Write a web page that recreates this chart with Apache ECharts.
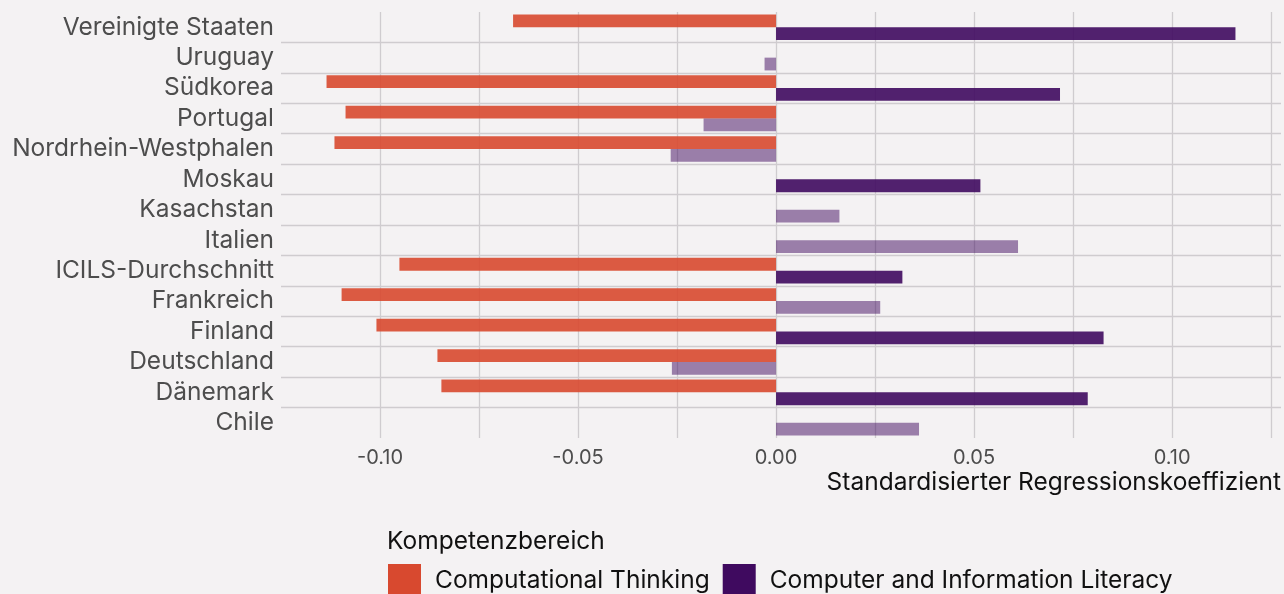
<!DOCTYPE html>
<html>
<head>
<meta charset="utf-8">
<script src="https://cdn.jsdelivr.net/npm/echarts@6/dist/echarts.min.js"></script>
<style>
html,body{margin:0;padding:0;background:#F4F2F3;}
#c{width:1284px;height:594px;}
</style>
</head>
<body>
<div id="c"></div>
<script>
// Categories, top to bottom
const categories = ["Vereinigte Staaten","Uruguay","Südkorea","Portugal","Nordrhein-Westphalen","Moskau","Kasachstan","Italien","ICILS-Durchschnitt","Frankreich","Finland","Deutschland","Dänemark","Chile"];
// Computational Thinking coefficients (null = not participating)
const ctValues = [-0.0664, null, -0.1135, -0.1087, -0.1115, null, null, null, -0.0951, -0.1097, -0.1009, -0.0855, -0.0845, null];
// Computer and Information Literacy coefficients
const cilValues = [0.1160, -0.0029, 0.0717, -0.0183, -0.0266, 0.0516, 0.0160, 0.0611, 0.0319, 0.0263, 0.0827, -0.0263, 0.0787, 0.0361];
// CIL significance (true = significant, drawn dark)
const cilSignificant = [true, false, true, false, false, true, false, false, true, false, true, false, true, false];
const seriesNames = ["Computational Thinking", "Computer and Information Literacy"];
const legendTitle = "Kompetenzbereich";
const xAxisTitle = "Standardisierter Regressionskoeffizient";

const FONT = "Inter, 'Noto Sans', sans-serif";
const CT_COLOR = "#D8492F";
const CIL_COLOR = "#3F0A5F";

const chart = echarts.init(document.getElementById('c'), null, {renderer: 'canvas'});

const option = {
  backgroundColor: "#F4F2F3",
  animation: false,
  grid: {left: 281, right: 2, top: 12, height: 426, containLabel: false},
  xAxis: {
    type: 'value',
    min: -0.125,
    max: 0.1275,
    interval: 0.025,
    axisLine: {show: false},
    axisTick: {show: false},
    axisLabel: {
      margin: 10,
      color: '#4D4D4D',
      fontFamily: FONT,
      fontSize: 20,
      formatter: function (v) {
        const k = Math.round(v / 0.05);
        if (Math.abs(k * 0.05 - v) < 1e-9) return v.toFixed(2);
        return '';
      }
    },
    splitLine: {show: true, showMinLine: false, showMaxLine: false, lineStyle: {color: '#CFCCCF', width: 1.3}}
  },
  yAxis: {
    type: 'category',
    data: categories,
    inverse: true,
    axisLine: {show: false},
    axisTick: {show: false, interval: 0},
    axisLabel: {interval: 0, margin: 7, color: '#4D4D4D', fontFamily: FONT, fontSize: 24.5, padding: [4, 0, 0, 0]},
    splitLine: {show: true, interval: 0, showMinLine: false, showMaxLine: false, lineStyle: {color: '#CFCCCF', width: 1.3}}
  },
  legend: {
    left: 388,
    top: 564,
    padding: 0,
    itemWidth: 33,
    itemHeight: 34,
    itemGap: 13,
    icon: 'rect',
    textStyle: {color: '#111', fontFamily: FONT, fontSize: 24.5, padding: [0, 0, 0, 9]},
    itemStyle: {opacity: 1},
    data: [
      {name: seriesNames[0], itemStyle: {color: CT_COLOR, opacity: 1}},
      {name: seriesNames[1], itemStyle: {color: CIL_COLOR, opacity: 1}}
    ]
  },
  graphic: [
    {type: 'text', left: 387, top: 529, style: {text: legendTitle, fill: '#111', font: '24.5px ' + FONT}},
    {type: 'text', right: 3, top: 470, style: {text: xAxisTitle, fill: '#111', font: '24.5px ' + FONT}}
  ],
  series: [
    {
      name: seriesNames[0],
      type: 'bar',
      data: ctValues,
      barGap: '0%',
      barCategoryGap: '16%',
      itemStyle: {color: CT_COLOR, opacity: 0.9}
    },
    {
      name: seriesNames[1],
      type: 'bar',
      data: cilValues.map((v, i) => ({value: v, itemStyle: {opacity: cilSignificant[i] ? 0.9 : 0.5}})),
      barGap: '0%',
      barCategoryGap: '16%',
      itemStyle: {color: CIL_COLOR, opacity: 0.9}
    }
  ]
};
chart.setOption(option);
</script>
</body>
</html>
